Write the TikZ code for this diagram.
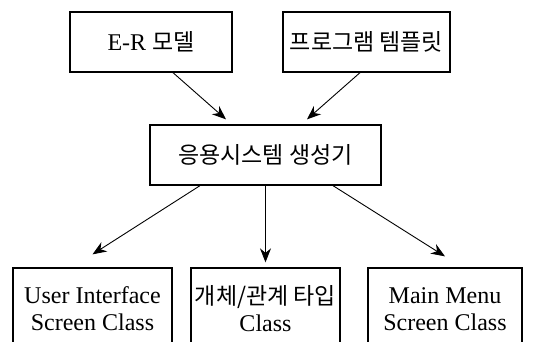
\documentclass[tikz,border=0pt]{standalone}
\usepackage{fontspec}
\setmainfont{Liberation Serif}
\newfontfamily\krfont{Noto Sans CJK KR}
\newcommand\krtext[1]{{\krfont\fontsize{23}{27}\selectfont #1}}
\usetikzlibrary{arrows.meta}
\begin{document}
\begin{tikzpicture}[x=1pt,y=-1pt,
 box/.style={draw,line width=1.3pt,inner sep=0pt,align=center,font=\fontsize{24}{27}\selectfont},
 arr/.style={-{Stealth[length=14pt,width=11pt]},line width=0.9pt}]
\useasboundingbox (0,0) rectangle (544,341);
\clip (0,0) rectangle (544,341);
\node[box,minimum width=162pt,minimum height=60pt] (er) at (151,42) {E-R \krtext{모델}};
\node[box,minimum width=167pt,minimum height=60pt] (tp) at (366.5,42) {\krtext{프로그램 템플릿}};
\node[box,minimum width=231pt,minimum height=60pt] (gen) at (265.5,155) {\krtext{응용시스템 생성기}};
\node[box,minimum width=159pt,minimum height=82pt] (ui) at (92.5,309) {User Interface\\Screen Class};
\node[box,minimum width=149pt,minimum height=82pt] (ent) at (265.5,309) {\krtext{개체/관계 타입}\\Class};
\node[box,minimum width=154pt,minimum height=82pt] (mm) at (445,309) {Main Menu\\Screen Class};
\draw[arr] ([xshift=22pt]er.south) -- ([xshift=-39.5pt,yshift=5pt]gen.north);
\draw[arr] ([xshift=-6.5pt]tp.south) -- ([xshift=41.5pt,yshift=5pt]gen.north);
\draw[arr] ([xshift=-65.5pt]gen.south) -- ([yshift=13pt]ui.north);
\draw[arr] (gen.south) -- ([yshift=5pt]ent.north);
\draw[arr] ([xshift=67.5pt]gen.south) -- ([yshift=11pt]mm.north);
\end{tikzpicture}
\end{document}
